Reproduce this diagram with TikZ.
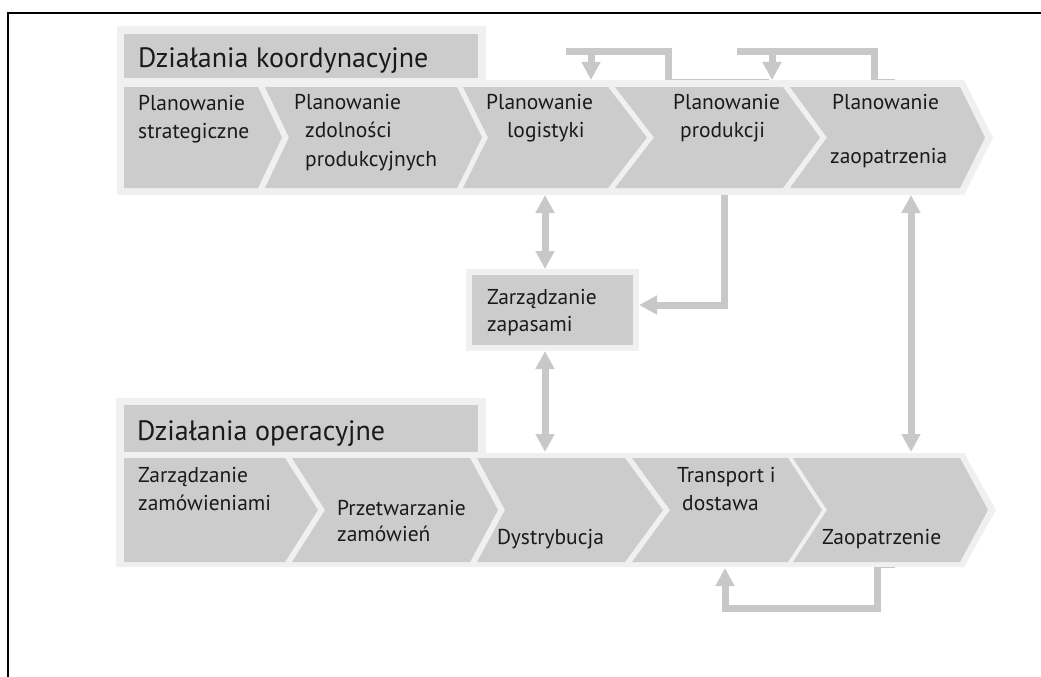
\documentclass[tikz,border=0pt]{standalone}
\usepackage{fontspec}
\setmainfont{PT Sans}
\usetikzlibrary{arrows.meta,calc}
\definecolor{pale}{HTML}{F0F0F0}
\definecolor{chevgray}{HTML}{CCCCCC}
\definecolor{flowgray}{HTML}{C8C8C8}
\definecolor{ink}{HTML}{1A1A1A}
\tikzset{
    chev/.style =   {fill=chevgray},
    band/.style =   {fill=pale},
    lbl/.style =    {anchor=north west,
                    inner sep=0pt,
                    align=left,
                    text=ink,
                    font=\fontsize{21.5}{28.5}\selectfont,
                    execute at begin node=\strut},
    hdr/.style =    {lbl,
                    font=\fontsize{28}{34}\selectfont},
    box/.style =    {rectangle,
                    fill=chevgray,
                    draw=pale,
                    line width=6pt,
                    text=ink,
                    align=left,
                    text width=131pt,
                    inner xsep=18pt,
                    minimum height=76pt,
                    font=\fontsize{21.5}{28.5}\selectfont,
                    execute at begin node=\strut},
    flow/.style =   {draw=flowgray,
                    line width=7pt},
    seam/.style =   {draw=black!22,
                    line width=1pt},
    >={Triangle[length=18pt,width=18pt]}}

\begin{document}
\begin{tikzpicture}[x=1pt,y=-1pt]
            \useasboundingbox (0,0) rectangle (1041,677);
            \draw [line width=2pt] (1041,13) -- (8,13) -- (8,677);

            % coordination band
            \fill[band] (117,26) -- (486,26) -- (486,80) -- (964,80) -- (993,137.5)
                        -- (964,195) -- (117,195) -- cycle;
            \fill[chev] (124,34) rectangle (478,78);
            \foreach \l/\n/\r/\t in {124/124/258/282, 265/289/457/482, 463/488/608/647,
                                     615/654/783/820, 790/827/960/985}
                \fill[chev] (\l,87) -- (\r,87) -- (\t,137.5) -- (\r,188) -- (\l,188) -- (\n,137.5) -- cycle;

            % operations band
            \fill[band] (116,398) -- (486,398) -- (486,453) -- (964,453) -- (996,510)
                        -- (964,567) -- (116,567) -- cycle;
            \fill[chev] (124,405) rectangle (478,452);
            \foreach \l/\n/\r/\t in {124/124/285/318, 292/325/470/498, 477/505/625/663,
                                     632/670/788/822, 793/827/960/988}
                \fill[chev] (\l,458) -- (\r,458) -- (\t,510) -- (\r,562) -- (\l,562) -- (\n,510) -- cycle;

            \draw[seam] (668,79.5) -- (769,79.5);
            \draw[seam] (874,79.5) -- (895,79.5);
            \draw[seam] (877,567.5) -- (895,567.5);

            % labels
            \node[hdr]  (koord)  at (138,43.2)  {Działania koordynacyjne};
            \node[lbl]  (strat)  at (138,95)    {Planowanie\\strategiczne};
            \node[lbl]  (zdol)   at (294,94)    {Planowanie\\\hspace*{11pt}zdolności\\\hspace*{11pt}produkcyjnych};
            \node[lbl]  (logi)   at (486,94)    {Planowanie\\\hspace*{21pt}logistyki};
            \node[lbl]  (prod)   at (673,94)    {Planowanie\\\hspace*{7pt}produkcji};
            \node[lbl]  (zaop)   at (832,94)    {Planowanie\\[25.5pt]\hspace*{-2pt}zaopatrzenia};

            \node[box]  (zap)    at (552.5,310) {Zarządzanie\\[-1.5pt]zapasami};

            \node[hdr]  (oper)   at (137,416.2) {Działania operacyjne};
            \node[lbl]  (zam)    at (138,467)   {Zarządzanie\\zamówieniami};
            \node[lbl]  (przet)  at (337,500)   {Przetwarzanie\\[-2.5pt]zamówień};
            \node[lbl]  (dyst)   at (497,524)   {Dystrybucja};
            \node[lbl]  (trans)  at (677,467)   {Transport i\\\hspace*{5pt}dostawa};
            \node[lbl]  (zaopop) at (822,524)   {Zaopatrzenie};

            % connector ends
            \coordinate (logT)    at (591,80);
            \coordinate (prodOut) at (668,80);
            \coordinate (prodT)   at (772,80);
            \coordinate (zaoOut)  at (874,80);
            \coordinate (fb1)     at (566,52);
            \coordinate (fb2)     at (737,52);
            \coordinate (logB)    at (545,195);
            \coordinate (prodB)   at (724,195);
            \coordinate (zaoB)    at (911,195);
            \coordinate (dysT)    at (545,452);
            \coordinate (zaoT)    at (911,452);
            \coordinate (zaoOpB)  at (877,567);
            \coordinate (transB)  at (725,568);
            \coordinate (fb3)     at (725,608);

            \draw[flow]     (prodOut) |- (fb1);
            \draw[flow,->]  (logT |- fb1) -- (logT);
            \draw[flow]     (zaoOut) |- (fb2);
            \draw[flow,->]  (prodT |- fb2) -- (prodT);
            \draw[flow,<->] (logB) -- (logB |- zap.north);
            \draw[flow,->]  (prodB) |- ([yshift=5pt]zap.east);
            \draw[flow,<->] (dysT |- zap.south) -- (dysT);
            \draw[flow,<->] (zaoB) -- (zaoT);
            \draw[flow,->]  (zaoOpB) |- (fb3) -- (transB);
        \end{tikzpicture}
\end{document}
